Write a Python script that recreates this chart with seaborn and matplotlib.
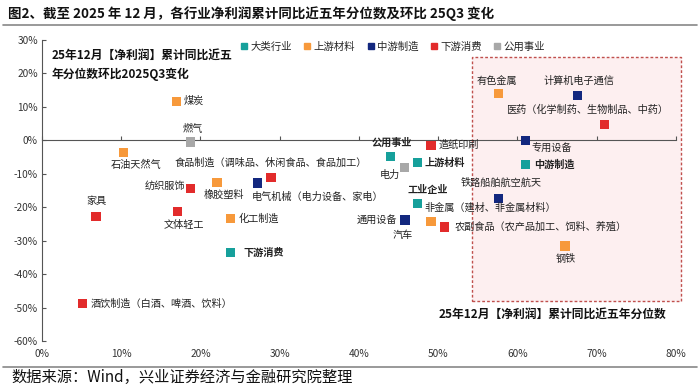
import pandas as pd
import numpy as np
import matplotlib.pyplot as plt
import matplotlib.patches as mpatches
from matplotlib.lines import Line2D
from matplotlib.ticker import FuncFormatter
import seaborn as sns

# 行业、分组、近五年分位数(%)、环比25Q3变化(%)
names = ['煤炭', '燃气', '石油天然气', '食品制造（调味品、休闲食品、食品加工）', '纺织服饰',
         '橡胶塑料', '电气机械（电力设备、家电）', '家具', '文体轻工', '化工制造', '下游消费',
         '酒饮制造（白酒、啤酒、饮料）', '有色金属', '计算机电子通信', '医药（化学制药、生物制品、中药）',
         '专用设备', '造纸印刷', '公用事业', '上游材料', '电力', '中游制造', '铁路船舶航空航天',
         '工业企业', '非金属（建材、非金属材料）', '通用设备', '汽车',
         '农副食品（农产品加工、饲料、养殖）', '钢铁']
groups = ['上游材料', '公用事业', '上游材料', '下游消费', '下游消费',
          '上游材料', '中游制造', '下游消费', '下游消费', '上游材料', '大类行业',
          '下游消费', '上游材料', '中游制造', '下游消费',
          '中游制造', '下游消费', '大类行业', '大类行业', '公用事业', '大类行业', '中游制造',
          '大类行业', '上游材料', '中游制造', '中游制造',
          '下游消费', '上游材料']
pct = [17.0, 18.7, 10.3, 28.9, 18.7,
       22.1, 27.2, 6.8, 17.1, 23.8, 23.8,
       5.1, 57.6, 67.6, 71.0,
       61.0, 49.1, 44.0, 47.4, 45.7, 61.0, 57.6,
       47.4, 49.1, 45.8, 45.8,
       50.8, 66.0]
chg = [11.7, -0.5, -3.7, -11.1, -14.4,
       -12.6, -12.8, -22.8, -21.2, -23.3, -33.5,
       -48.7, 13.9, 13.5, 4.7,
       0.0, -1.5, -4.9, -6.7, -8.2, -7.2, -17.4,
       -18.8, -24.2, -23.8, -23.9,
       -25.9, -31.6]

group_order = ['大类行业', '上游材料', '中游制造', '下游消费', '公用事业']
colors = ['#16a09b', '#f7993b', '#13287f', '#e22b2b', '#a8a8a8']
bold_names = ['下游消费', '公用事业', '上游材料', '中游制造', '工业企业']

# 标签偏移(像素, x右 y上) 与对齐
offsets = [(7, 0, 'left'), (3, 13, 'center'), (12, -12, 'center'), (0, 15, 'center'), (-5, 3, 'right'),
           (7, -12, 'center'), (-6, -14, 'left'), (1, 16, 'center'), (6, -14, 'center'), (8, 0, 'left'), (13, 0, 'left'),
           (8, 0, 'left'), (-2, 13, 'center'), (1, 14, 'center'), (-18, 15, 'center'),
           (6, -8, 'left'), (7, 1, 'left'), (1, 14, 'center'), (7, 0, 'left'), (-14, -7, 'center'), (9, 0, 'left'), (3, 16, 'center'),
           (10, 13, 'center'), (-7, 14, 'left'), (-8, 0, 'right'), (-2, -15, 'center'),
           (10, 0, 'left'), (1, -13, 'center')]

df = pd.DataFrame({'name': names, 'group': groups, 'x': pct, 'y': chg})

sns.set_style('white')
plt.rcParams['font.family'] = ['Noto Sans CJK SC', 'DejaVu Sans']
plt.rcParams['axes.unicode_minus'] = False

fig = plt.figure(figsize=(7, 3.88), dpi=100)
ax = fig.add_axes([0.06, 0.121, 0.9057, 0.776])

# 高亮区域
box_x0, box_x1, box_y0, box_y1 = 54.3, 80.6, -48.0, 24.8
ax.add_patch(mpatches.Rectangle((box_x0, box_y0), box_x1 - box_x0, box_y1 - box_y0,
                                facecolor='#fdeff0', edgecolor='#c0504d', linestyle=(0, (2, 1.5)),
                                linewidth=1.0, zorder=0, clip_on=False))

sns.scatterplot(data=df, x='x', y='y', hue='group', hue_order=group_order,
                palette=dict(zip(group_order, colors)), marker='s', s=45,
                edgecolor='none', legend=False, ax=ax, zorder=3, clip_on=False)

for n, x, y, (dx, dy, ha) in zip(names, pct, chg, offsets):
    ax.annotate(n, (x, y), xytext=(dx, dy), textcoords='offset pixels', ha=ha, va='center',
                fontsize=7.3, color='#222222', fontweight='bold' if n in bold_names else 'normal')

ax.set_xlim(0, 80)
ax.set_ylim(-60, 30)
ax.set_xticks(np.arange(0, 81, 10))
ax.set_yticks(np.arange(-60, 31, 10))
pf = FuncFormatter(lambda v, p: f'{v:.0f}%')
ax.xaxis.set_major_formatter(pf)
ax.yaxis.set_major_formatter(pf)
ax.set_xlabel('')
ax.set_ylabel('')

# 零轴作为横轴线, 刻度标签放在底部
ax.spines['top'].set_position(('data', 0))
ax.spines['top'].set_color('#555555')
ax.spines['bottom'].set_visible(False)
ax.spines['right'].set_visible(False)
ax.spines['left'].set_color('#555555')
ax.tick_params(axis='x', top=True, bottom=False, labeltop=False, labelbottom=True,
               direction='out', length=3, color='#555555', labelsize=7.3, labelcolor='#333333', pad=3)
ax.tick_params(axis='y', left=True, direction='in', length=3, color='#555555',
               labelsize=7.3, labelcolor='#333333', pad=3)

ax.text(0.015, 0.97, '25年12月【净利润】累计同比近五\n年分位数环比2025Q3变化', transform=ax.transAxes,
        ha='left', va='top', fontsize=8.5, fontweight='bold', linespacing=1.5, color='#111111')
ax.text(0.805, 0.09, '25年12月【净利润】累计同比近五年分位数', transform=ax.transAxes,
        ha='center', va='center', fontsize=8.5, fontweight='bold', color='#111111')

handles = [Line2D([], [], marker='s', linestyle='', color=c, markersize=5) for c in colors]
ax.legend(handles, group_order, ncol=5, loc='center', bbox_to_anchor=(0.56, 0.879),
          bbox_transform=fig.transFigure, frameon=False, fontsize=7.5,
          handletextpad=0.1, columnspacing=1.0, handlelength=1.0, borderpad=0)

fig.text(0.011, 0.965, '图2、截至 2025 年 12 月，各行业净利润累计同比近五年分位数及环比 25Q3 变化',
         ha='left', va='center', fontsize=9.7, fontweight='bold', color='#111111')
fig.add_artist(Line2D([0.004, 0.996], [0.935, 0.935], color='#888888', linewidth=1.2))
fig.add_artist(Line2D([0.004, 0.996], [0.053, 0.053], color='#888888', linewidth=1.2))
fig.text(0.017, 0.026, '数据来源：Wind，兴业证券经济与金融研究院整理', ha='left', va='center',
         fontsize=11, color='#111111')

fig.savefig('out.png', dpi=100)
